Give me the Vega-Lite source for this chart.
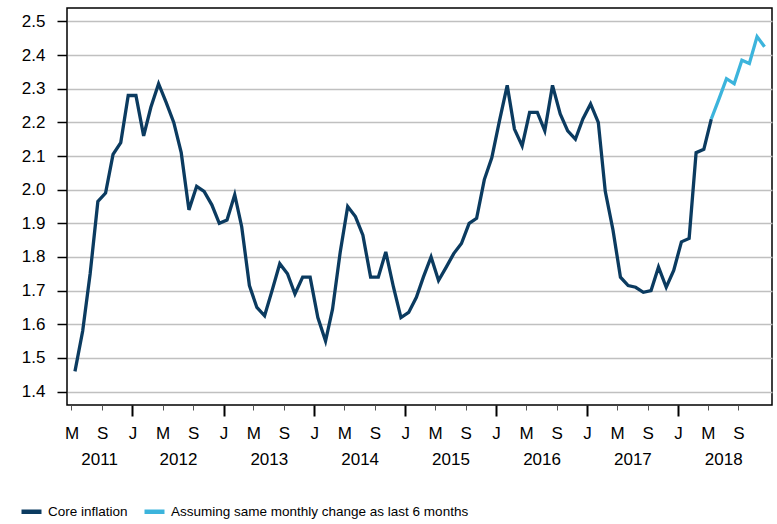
{
  "$schema": "https://vega.github.io/schema/vega-lite/v6.json",
  "width": 705,
  "height": 397,
  "autosize": {"type": "none"},
  "padding": {"left": 67, "top": 8, "right": 5, "bottom": 119},
  "background": "white",
  "config": {
    "view": {"stroke": "#000000", "strokeWidth": 1.5},
    "font": "Liberation Sans"
  },
  "data": {
    "values": [
      {"date": "2011-05-15", "value": 1.46, "series": "Core inflation"},
      {"date": "2011-06-15", "value": 1.58, "series": "Core inflation"},
      {"date": "2011-07-15", "value": 1.75, "series": "Core inflation"},
      {"date": "2011-08-15", "value": 1.965, "series": "Core inflation"},
      {"date": "2011-09-15", "value": 1.99, "series": "Core inflation"},
      {"date": "2011-10-15", "value": 2.105, "series": "Core inflation"},
      {"date": "2011-11-15", "value": 2.14, "series": "Core inflation"},
      {"date": "2011-12-15", "value": 2.28, "series": "Core inflation"},
      {"date": "2012-01-15", "value": 2.28, "series": "Core inflation"},
      {"date": "2012-02-15", "value": 2.16, "series": "Core inflation"},
      {"date": "2012-03-15", "value": 2.245, "series": "Core inflation"},
      {"date": "2012-04-15", "value": 2.315, "series": "Core inflation"},
      {"date": "2012-05-15", "value": 2.26, "series": "Core inflation"},
      {"date": "2012-06-15", "value": 2.2, "series": "Core inflation"},
      {"date": "2012-07-15", "value": 2.11, "series": "Core inflation"},
      {"date": "2012-08-15", "value": 1.94, "series": "Core inflation"},
      {"date": "2012-09-15", "value": 2.01, "series": "Core inflation"},
      {"date": "2012-10-15", "value": 1.995, "series": "Core inflation"},
      {"date": "2012-11-15", "value": 1.955, "series": "Core inflation"},
      {"date": "2012-12-15", "value": 1.9, "series": "Core inflation"},
      {"date": "2013-01-15", "value": 1.91, "series": "Core inflation"},
      {"date": "2013-02-15", "value": 1.985, "series": "Core inflation"},
      {"date": "2013-03-15", "value": 1.89, "series": "Core inflation"},
      {"date": "2013-04-15", "value": 1.715, "series": "Core inflation"},
      {"date": "2013-05-15", "value": 1.65, "series": "Core inflation"},
      {"date": "2013-06-15", "value": 1.625, "series": "Core inflation"},
      {"date": "2013-07-15", "value": 1.7, "series": "Core inflation"},
      {"date": "2013-08-15", "value": 1.78, "series": "Core inflation"},
      {"date": "2013-09-15", "value": 1.75, "series": "Core inflation"},
      {"date": "2013-10-15", "value": 1.69, "series": "Core inflation"},
      {"date": "2013-11-15", "value": 1.74, "series": "Core inflation"},
      {"date": "2013-12-15", "value": 1.74, "series": "Core inflation"},
      {"date": "2014-01-15", "value": 1.62, "series": "Core inflation"},
      {"date": "2014-02-15", "value": 1.55, "series": "Core inflation"},
      {"date": "2014-03-15", "value": 1.645, "series": "Core inflation"},
      {"date": "2014-04-15", "value": 1.815, "series": "Core inflation"},
      {"date": "2014-05-15", "value": 1.95, "series": "Core inflation"},
      {"date": "2014-06-15", "value": 1.92, "series": "Core inflation"},
      {"date": "2014-07-15", "value": 1.865, "series": "Core inflation"},
      {"date": "2014-08-15", "value": 1.74, "series": "Core inflation"},
      {"date": "2014-09-15", "value": 1.74, "series": "Core inflation"},
      {"date": "2014-10-15", "value": 1.815, "series": "Core inflation"},
      {"date": "2014-11-15", "value": 1.71, "series": "Core inflation"},
      {"date": "2014-12-15", "value": 1.62, "series": "Core inflation"},
      {"date": "2015-01-15", "value": 1.635, "series": "Core inflation"},
      {"date": "2015-02-15", "value": 1.68, "series": "Core inflation"},
      {"date": "2015-03-15", "value": 1.74, "series": "Core inflation"},
      {"date": "2015-04-15", "value": 1.8, "series": "Core inflation"},
      {"date": "2015-05-15", "value": 1.73, "series": "Core inflation"},
      {"date": "2015-06-15", "value": 1.77, "series": "Core inflation"},
      {"date": "2015-07-15", "value": 1.81, "series": "Core inflation"},
      {"date": "2015-08-15", "value": 1.84, "series": "Core inflation"},
      {"date": "2015-09-15", "value": 1.9, "series": "Core inflation"},
      {"date": "2015-10-15", "value": 1.915, "series": "Core inflation"},
      {"date": "2015-11-15", "value": 2.03, "series": "Core inflation"},
      {"date": "2015-12-15", "value": 2.095, "series": "Core inflation"},
      {"date": "2016-01-15", "value": 2.205, "series": "Core inflation"},
      {"date": "2016-02-15", "value": 2.31, "series": "Core inflation"},
      {"date": "2016-03-15", "value": 2.18, "series": "Core inflation"},
      {"date": "2016-04-15", "value": 2.13, "series": "Core inflation"},
      {"date": "2016-05-15", "value": 2.23, "series": "Core inflation"},
      {"date": "2016-06-15", "value": 2.23, "series": "Core inflation"},
      {"date": "2016-07-15", "value": 2.175, "series": "Core inflation"},
      {"date": "2016-08-15", "value": 2.31, "series": "Core inflation"},
      {"date": "2016-09-15", "value": 2.225, "series": "Core inflation"},
      {"date": "2016-10-15", "value": 2.175, "series": "Core inflation"},
      {"date": "2016-11-15", "value": 2.15, "series": "Core inflation"},
      {"date": "2016-12-15", "value": 2.21, "series": "Core inflation"},
      {"date": "2017-01-15", "value": 2.255, "series": "Core inflation"},
      {"date": "2017-02-15", "value": 2.2, "series": "Core inflation"},
      {"date": "2017-03-15", "value": 1.995, "series": "Core inflation"},
      {"date": "2017-04-15", "value": 1.88, "series": "Core inflation"},
      {"date": "2017-05-15", "value": 1.74, "series": "Core inflation"},
      {"date": "2017-06-15", "value": 1.715, "series": "Core inflation"},
      {"date": "2017-07-15", "value": 1.71, "series": "Core inflation"},
      {"date": "2017-08-15", "value": 1.695, "series": "Core inflation"},
      {"date": "2017-09-15", "value": 1.7, "series": "Core inflation"},
      {"date": "2017-10-15", "value": 1.77, "series": "Core inflation"},
      {"date": "2017-11-15", "value": 1.71, "series": "Core inflation"},
      {"date": "2017-12-15", "value": 1.76, "series": "Core inflation"},
      {"date": "2018-01-15", "value": 1.845, "series": "Core inflation"},
      {"date": "2018-02-15", "value": 1.855, "series": "Core inflation"},
      {"date": "2018-03-15", "value": 2.11, "series": "Core inflation"},
      {"date": "2018-04-15", "value": 2.12, "series": "Core inflation"},
      {"date": "2018-05-15", "value": 2.21, "series": "Core inflation"},
      {"date": "2018-05-15", "value": 2.21, "series": "Assuming same monthly change as last 6 months"},
      {"date": "2018-06-15", "value": 2.27, "series": "Assuming same monthly change as last 6 months"},
      {"date": "2018-07-15", "value": 2.33, "series": "Assuming same monthly change as last 6 months"},
      {"date": "2018-08-15", "value": 2.315, "series": "Assuming same monthly change as last 6 months"},
      {"date": "2018-09-15", "value": 2.385, "series": "Assuming same monthly change as last 6 months"},
      {"date": "2018-10-15", "value": 2.375, "series": "Assuming same monthly change as last 6 months"},
      {"date": "2018-11-15", "value": 2.455, "series": "Assuming same monthly change as last 6 months"},
      {"date": "2018-12-15", "value": 2.425, "series": "Assuming same monthly change as last 6 months"}
    ],
    "format": {"parse": {"date": "date:'%Y-%m-%d'"}}
  },
  "encoding": {
    "y": {
      "field": "value",
      "type": "quantitative",
      "scale": {"domain": [1.36, 2.54], "nice": false, "zero": false},
      "axis": {
        "title": null,
        "values": [1.4, 1.5, 1.6, 1.7, 1.8, 1.9, 2.0, 2.1, 2.2, 2.3, 2.4, 2.5],
        "format": ".1f",
        "domain": false,
        "grid": true,
        "gridColor": "#c0c0c0",
        "gridWidth": 1.5,
        "tickColor": "#000000",
        "tickWidth": 1.5,
        "tickSize": 10,
        "labelPadding": 12,
        "labelFontSize": 17,
        "labelColor": "#000000",
        "labelFont": "Liberation Sans"
      }
    },
    "color": {
      "field": "series",
      "type": "nominal",
      "scale": {
        "domain": ["Core inflation", "Assuming same monthly change as last 6 months"],
        "range": ["#0b3b60", "#3cb4dc"]
      },
      "legend": {
        "title": null,
        "orient": "none",
        "legendX": -48,
        "legendY": 491,
        "direction": "horizontal",
        "symbolType": "stroke",
        "symbolSize": 400,
        "symbolStrokeWidth": 4.5,
        "labelFont": "Liberation Sans",
        "labelFontSize": 13.5,
        "labelColor": "#000000",
        "labelOffset": 4,
        "columnPadding": 7,
        "labelLimit": 500
      }
    }
  },
  "layer": [
    {
      "transform": [{"filter": "datum.series === 'Core inflation'"}],
      "mark": {"type": "line", "strokeWidth": 3.3},
      "encoding": {
        "x": {
          "field": "date",
          "type": "temporal",
          "scale": {
            "domain": [
              {"year": 2011, "month": 4, "date": 13},
              {"year": 2019, "month": 1, "date": 14}
            ]
          },
          "axis": {
            "title": null,
            "orient": "bottom",
            "grid": false,
            "domain": false,
            "values": [
              {"year": 2011, "month": 5, "date": 1},
              {"year": 2011, "month": 9, "date": 1},
              {"year": 2012, "month": 1, "date": 1},
              {"year": 2012, "month": 5, "date": 1},
              {"year": 2012, "month": 9, "date": 1},
              {"year": 2013, "month": 1, "date": 1},
              {"year": 2013, "month": 5, "date": 1},
              {"year": 2013, "month": 9, "date": 1},
              {"year": 2014, "month": 1, "date": 1},
              {"year": 2014, "month": 5, "date": 1},
              {"year": 2014, "month": 9, "date": 1},
              {"year": 2015, "month": 1, "date": 1},
              {"year": 2015, "month": 5, "date": 1},
              {"year": 2015, "month": 9, "date": 1},
              {"year": 2016, "month": 1, "date": 1},
              {"year": 2016, "month": 5, "date": 1},
              {"year": 2016, "month": 9, "date": 1},
              {"year": 2017, "month": 1, "date": 1},
              {"year": 2017, "month": 5, "date": 1},
              {"year": 2017, "month": 9, "date": 1},
              {"year": 2018, "month": 1, "date": 1},
              {"year": 2018, "month": 5, "date": 1},
              {"year": 2018, "month": 9, "date": 1}
            ],
            "labelExpr": "slice(timeFormat(datum.value, '%b'), 0, 1)",
            "tickSize": {"condition": {"test": "month(datum.value) === 0", "value": 11}, "value": 5},
            "tickWidth": {"condition": {"test": "month(datum.value) === 0", "value": 2}, "value": 1},
            "tickColor": {"condition": {"test": "month(datum.value) === 0", "value": "#000000"}, "value": "#555555"},
            "labelPadding": {"condition": {"test": "month(datum.value) === 0", "value": 9}, "value": 15},
            "labelFontSize": 17,
            "labelColor": "#000000",
            "labelFont": "Liberation Sans",
            "labelOverlap": false,
            "labelFlush": false
          }
        }
      }
    },
    {
      "transform": [{"filter": "datum.series !== 'Core inflation'"}],
      "mark": {"type": "line", "strokeWidth": 3.3},
      "encoding": {
        "x": {
          "field": "date",
          "type": "temporal",
          "axis": {
            "title": null,
            "orient": "bottom",
            "grid": false,
            "domain": false,
            "ticks": false,
            "tickSize": 0,
            "values": [
              {"year": 2011, "month": 8, "date": 20},
              {"year": 2012, "month": 7, "date": 2},
              {"year": 2013, "month": 7, "date": 2},
              {"year": 2014, "month": 7, "date": 2},
              {"year": 2015, "month": 7, "date": 2},
              {"year": 2016, "month": 7, "date": 2},
              {"year": 2017, "month": 7, "date": 2},
              {"year": 2018, "month": 7, "date": 2}
            ],
            "labelExpr": "timeFormat(datum.value, '%Y')",
            "labelPadding": 46,
            "labelFontSize": 17,
            "labelColor": "#000000",
            "labelFont": "Liberation Sans",
            "labelOverlap": false,
            "labelFlush": false
          }
        }
      }
    }
  ],
  "resolve": {"axis": {"x": "independent"}}
}
